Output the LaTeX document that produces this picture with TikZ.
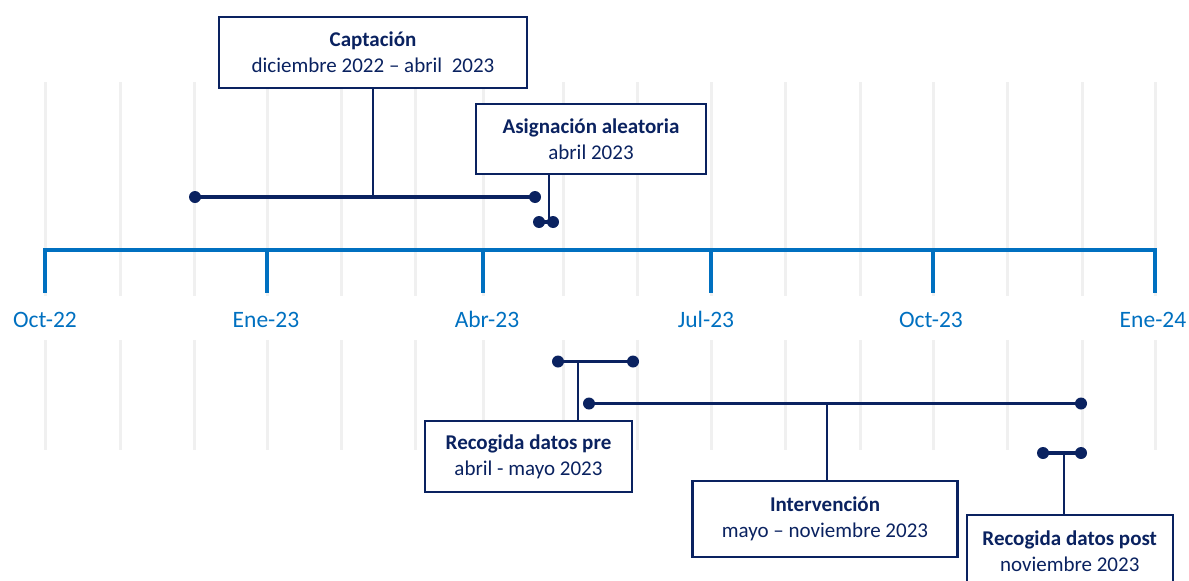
\documentclass[tikz,border=0pt]{standalone}
\usepackage{fontspec}
\setmainfont{Carlito}
\definecolor{navy}{HTML}{0A2260}
\definecolor{axisblue}{HTML}{0070C0}
\definecolor{gridgray}{HTML}{F0F0F0}
\begin{document}
\begin{tikzpicture}[x=1pt,y=-1pt,
  gridline/.style={gridgray,line width=3pt},
  axisline/.style={axisblue,line width=4.5pt},
  axislabel/.style={text=axisblue,font=\fontsize{23.5}{26}\selectfont,anchor=base,inner sep=0pt},
  phasebox/.style={draw=navy,line width=2.4pt,fill=white,text=navy,align=center,inner sep=0pt,
     font=\fontsize{21}{26}\selectfont},
  bar/.style={navy,line width=3.8pt},
  link/.style={navy,line width=1.4pt},
  dot/.style={fill=navy}]
\useasboundingbox (0,0) rectangle (1189,581);
\clip (0,0) rectangle (1189,581);
% grid
\foreach \gx in {45,120,194,267,341,415,483,563,637,711,785,860,933,1007,1082,1155}{
  \draw[gridline] (\gx,82) -- (\gx,296);
  \draw[gridline] (\gx,340) -- (\gx,450);
}
% axis
\draw[axisline,line join=miter] (45,293) -- (45,250) -- (1155,250) -- (1155,293);
\foreach \tx in {267,483,711,933}{\draw[axisline] (\tx,250) -- (\tx,293);}
\node[axislabel] (l1) at (45,327) {Oct-22};
\node[axislabel] (l2) at (266,327) {Ene-23};
\node[axislabel] (l3) at (487,327) {Abr-23};
\node[axislabel] (l4) at (706,327) {Jul-23};
\node[axislabel] (l5) at (931,327) {Oct-23};
\node[axislabel] (l6) at (1153,327) {Ene-24};
% boxes
\node[phasebox,minimum width=308pt,minimum height=71pt] (cap) at (373,52.5)
  {\textbf{Captación}\\diciembre 2022 – abril\ \ 2023};
\node[phasebox,minimum width=230pt,minimum height=70pt] (asig) at (591,139)
  {\textbf{Asignación aleatoria}\\abril 2023};
\node[phasebox,minimum width=207pt,minimum height=71pt] (pre) at (528.5,456.5)
  {\textbf{Recogida datos pre}\\abril - mayo 2023};
\node[phasebox,minimum width=265pt,minimum height=76pt] (int) at (825,519)
  {\textbf{Intervención}\\mayo – noviembre 2023};
\node[phasebox,minimum width=206pt,minimum height=72pt] (post) at (1069.7,551)
  {\textbf{Recogida datos post}\\noviembre 2023};
% bars
\coordinate (capA) at (195,197); \coordinate (capB) at (535,197);
\coordinate (asA) at (539,222); \coordinate (asB) at (553,222); \coordinate (asC) at (549,222);
\coordinate (preA) at (558,361.5); \coordinate (preB) at (633,361.5); \coordinate (preC) at (578,361.5);
\coordinate (intA) at (589,403.5); \coordinate (intB) at (1081,403.5); \coordinate (intC) at (827,403.5);
\coordinate (postA) at (1043,453); \coordinate (postB) at (1081,453); \coordinate (postC) at (1064,453);
\draw[link] (cap.south) -- (cap.south |- capA);
\draw[link] (asC |- asig.south) -- (asC);
\draw[link] (preC) -- (preC |- pre.north);
\draw[link] (intC) -- (intC |- int.north);
\draw[link] (postC) -- (postC |- post.north);
\foreach \a/\b in {capA/capB,asA/asB,preA/preB,intA/intB,postA/postB}{
  \draw[bar] (\a) -- (\b);
  \fill[dot] (\a) circle (6pt);
  \fill[dot] (\b) circle (6pt);
}
\end{tikzpicture}
\end{document}
